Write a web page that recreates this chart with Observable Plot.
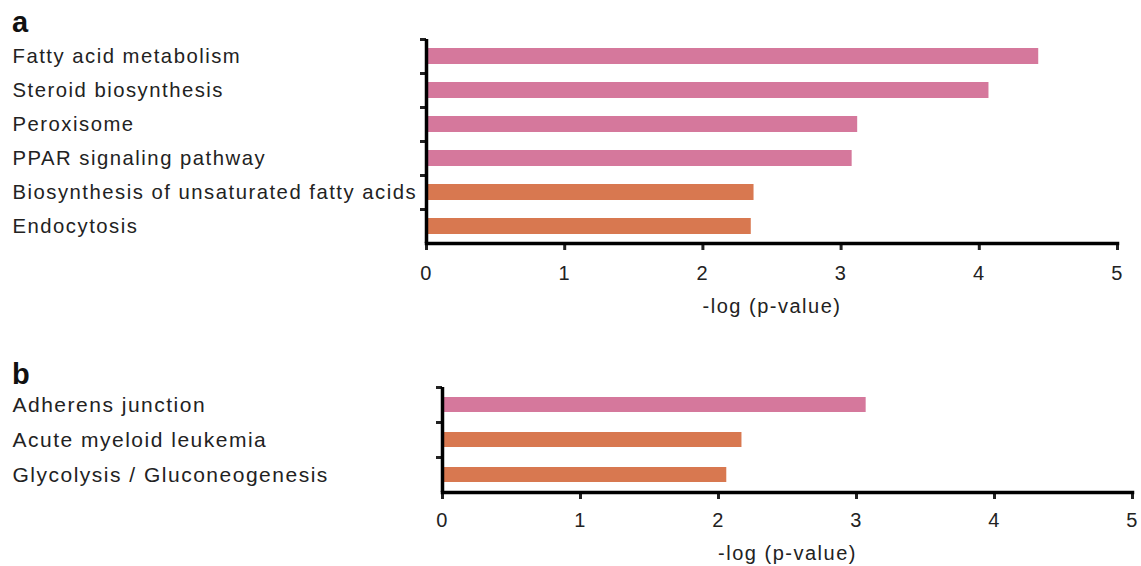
<!DOCTYPE html>
<html>
<head>
<meta charset="utf-8">
<script src="https://cdn.jsdelivr.net/npm/d3@7"></script>
<script src="https://cdn.jsdelivr.net/npm/@observablehq/plot@0.6"></script>
<style>
  html, body { margin: 0; padding: 0; background: #fff; }
  #wrap { position: relative; width: 1141px; height: 566px; overflow: hidden; }
  .panel-letter { position: absolute; left: 12px; font-family: "Liberation Sans", Arial, sans-serif; font-weight: bold; font-size: 29px; line-height: 1; color: #111; }
  #wrap svg { display: block; }
</style>
</head>
<body>
<div id="wrap">
  <div id="plots"></div>
  <div class="panel-letter" style="top:8px">a</div>
  <div class="panel-letter" style="top:360px">b</div>
</div>
<script>
// ---- data ----
const pathwaysA = [
  "Fatty acid metabolism",
  "Steroid biosynthesis",
  "Peroxisome",
  "PPAR signaling pathway",
  "Biosynthesis of unsaturated fatty acids",
  "Endocytosis"
];
const valuesA = [4.43, 4.07, 3.12, 3.08, 2.37, 2.35];
const groupsA = ["set1", "set1", "set1", "set1", "set2", "set2"];

const pathwaysB = [
  "Adherens junction",
  "Acute myeloid leukemia",
  "Glycolysis / Gluconeogenesis"
];
const valuesB = [3.07, 2.17, 2.06];
const groupsB = ["set1", "set2", "set2"];

const xTicks = [0, 1, 2, 3, 4, 5];
const groupDomain = ["set1", "set2"];
const groupColors = ["#d5789c", "#d87850"];
const xLabel = "-log (p-value)";

function panel(names, values, groups, o) {
  const data = names.map((name, i) => ({name, value: values[i], group: groups[i]}));
  const cell = (o.height - o.marginTop - o.marginBottom) / names.length;
  return Plot.plot({
    width: 1141,
    height: o.height,
    marginTop: o.marginTop,
    marginBottom: o.marginBottom,
    marginLeft: o.marginLeft,
    marginRight: o.marginRight,
    style: {fontFamily: "'Liberation Sans', Arial, sans-serif", fontSize: "20px", color: "#222", letterSpacing: o.spacing, background: "#fff", overflow: "visible"},
    x: {domain: [0, 5], ticks: xTicks, label: xLabel, labelAnchor: "center", labelArrow: "none"},
    y: {domain: names, paddingInner: o.pad, paddingOuter: o.pad / 2, label: null},
    color: {domain: groupDomain, range: groupColors},
    marks: [
      Plot.barX(data, {x: "value", y: "name", fill: "group"}),
      Plot.axisY({tickSize: 0, tickPadding: 0, textAnchor: "start", dx: 12 - o.marginLeft, label: null, fill: "#222", fontSize: o.labelSize}),
      Plot.axisY({tickSize: 6, strokeWidth: 3, tickFormat: () => "", dy: -cell / 2, label: null}),
      Plot.axisX({ticks: xTicks, tickFormat: d3.format("d"), tickSize: 7, strokeWidth: 3, tickPadding: o.tickPadding, label: xLabel, labelAnchor: "center", labelOffset: o.labelOffset, labelArrow: "none", fill: "#222"}),
      Plot.ruleX([0], {strokeWidth: 3.5, stroke: "#000"}),
      Plot.frame({anchor: "bottom", strokeWidth: 3.5, stroke: "#000"})
    ]
  });
}

const host = document.getElementById("plots");
host.appendChild(panel(pathwaysA, valuesA, groupsA, {
  height: 340, marginTop: 39, marginBottom: 97, marginLeft: 426, marginRight: 24,
  pad: 0.53, tickPadding: 15, labelOffset: 69, spacing: "1.5px", labelSize: 20.3
}));
host.appendChild(panel(pathwaysB, valuesB, groupsB, {
  height: 226, marginTop: 47, marginBottom: 74, marginLeft: 442, marginRight: 9,
  pad: 0.56, tickPadding: 13, labelOffset: 67, spacing: "1.5px", labelSize: 21
}));
</script>
</body>
</html>
